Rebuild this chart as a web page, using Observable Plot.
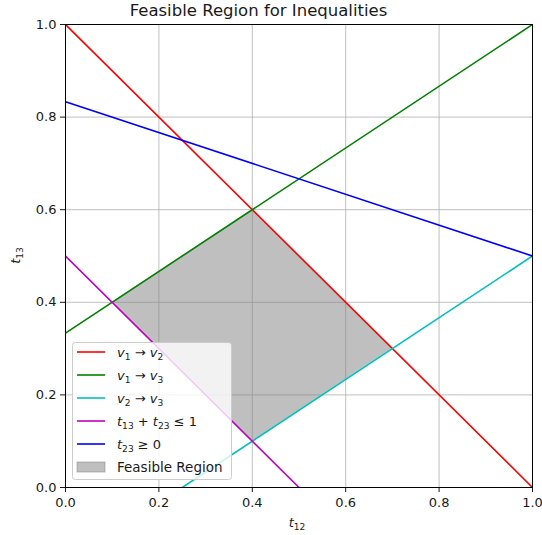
<!DOCTYPE html>
<html><head><meta charset="utf-8">
<script src="https://cdn.jsdelivr.net/npm/d3@7"></script>
<script src="https://cdn.jsdelivr.net/npm/@observablehq/plot@0.6"></script>
<style>body{margin:0;background:#fff;font-family:"DejaVu Sans",sans-serif;}</style>
</head><body><div id="chart"></div>
<script>
// Line endpoints
const seriesNames = ["v1→v2", "v1→v3", "v2→v3", "t13+t23≤1", "t23≥0"];
const seriesColors = ["#ff0000", "#008000", "#00bfbf", "#bf00bf", "#0000ff"];
const seriesX = [[0, 1], [0, 1], [0.25, 1], [0, 0.5], [0, 1]];
const seriesY = [[1, 0], [0.3333, 1], [0, 0.5], [0.5, 0], [0.8333, 0.5]];
// Feasible region: lower and upper boundary at vertex x positions
const regionX = [0.1, 0.4, 0.7];
const regionLow = [0.4, 0.1, 0.3];
const regionHigh = [0.4, 0.6, 0.3];
const ticks = [0, 0.2, 0.4, 0.6, 0.8, 1.0];

const lineRows = [];
seriesNames.forEach((n, i) => seriesX[i].forEach((x, j) => lineRows.push({name: n, x, y: seriesY[i][j]})));
const regionRows = regionX.map((x, i) => ({x, lo: regionLow[i], hi: regionHigh[i]}));

const W = 542, H = 535, ML = 65, MR = 10, MT = 24, MB = 48;
const plot = Plot.plot({
  width: W, height: H,
  marginLeft: ML, marginRight: MR, marginTop: MT, marginBottom: MB,
  style: {fontFamily: "DejaVu Sans, sans-serif", fontSize: "13px", color: "#1a1a1a", background: "white"},
  x: {domain: [0, 1], label: null},
  y: {domain: [0, 1], label: null},
  color: {domain: seriesNames, range: seriesColors},
  marks: [
    Plot.gridX({ticks, stroke: "#b0b0b0", strokeOpacity: 1, strokeWidth: 0.8}),
    Plot.gridY({ticks, stroke: "#b0b0b0", strokeOpacity: 1, strokeWidth: 0.8}),
    Plot.areaY(regionRows, {x: "x", y1: "lo", y2: "hi", fill: "#808080", fillOpacity: 0.5}),
    Plot.line(lineRows, {x: "x", y: "y", z: "name", stroke: "name", strokeWidth: 1.6, clip: true}),
    Plot.axisX({ticks, tickSize: 5, tickPadding: 5, tickFormat: d3.format(".1f"), fontSize: 13}),
    Plot.axisY({ticks, tickSize: 5, tickPadding: 4, tickFormat: d3.format(".1f"), fontSize: 13}),
    Plot.frame({stroke: "black", strokeWidth: 1})
  ]
});
document.getElementById("chart").appendChild(plot);

const svg = d3.select(plot);
// title
svg.append("text").attr("x", 258.5).attr("y", 16).attr("text-anchor", "middle")
  .attr("font-size", 16.5).attr("fill", "#1a1a1a").text("Feasible Region for Inequalities");

function mathText(g, x, y, parts, anchor, size) {
  const t = g.append("text").attr("x", x).attr("y", y).attr("font-size", size).attr("fill", "#1a1a1a")
    .attr("text-anchor", anchor || "start");
  parts.forEach(p => {
    const ts = t.append("tspan").text(p[0]);
    if (p[1] === "i") ts.attr("font-style", "italic");
    if (p[1] === "s") { ts.attr("font-size", size * 0.7).attr("dy", size * 0.25); }
    if (p[1] === "u") { ts.attr("dy", -size * 0.25); }
  });
  return t;
}
// axis labels
mathText(svg, 297, 527, [["t", "i"], ["12", "s"]], "middle", 13);
const yl = svg.append("g").attr("transform", `translate(20,${MT + (H - MT - MB) / 2}) rotate(-90)`);
mathText(yl, 0, 0, [["t", "i"], ["13", "s"]], "middle", 13);

// legend
const lg = svg.append("g").attr("text-anchor", "start");
lg.append("rect").attr("x", 72.5).attr("y", 342.5).attr("width", 159).attr("height", 137).attr("rx", 3)
  .attr("fill", "white").attr("fill-opacity", 0.8).attr("stroke", "#cccccc");
const rowY = [352, 375, 398, 421, 444, 467];
const labels = [
  [["v", "i"], ["1", "s"], [" → ", "u"], ["v", "i"], ["2", "s"]],
  [["v", "i"], ["1", "s"], [" → ", "u"], ["v", "i"], ["3", "s"]],
  [["v", "i"], ["2", "s"], [" → ", "u"], ["v", "i"], ["3", "s"]],
  [["t", "i"], ["13", "s"], [" + ", "u"], ["t", "i"], ["23", "s"], [" ≤ 1", "u"]],
  [["t", "i"], ["23", "s"], [" ≥ 0", "u"]]
];
seriesColors.forEach((c, i) => {
  lg.append("line").attr("x1", 77).attr("x2", 105).attr("y1", rowY[i]).attr("y2", rowY[i])
    .attr("stroke", c).attr("stroke-width", 1.6);
  mathText(lg, 117, rowY[i] + 4.5, labels[i], "start", 13);
});
lg.append("rect").attr("x", 77).attr("y", rowY[5] - 5).attr("width", 28).attr("height", 10)
  .attr("fill", "#808080").attr("fill-opacity", 0.5).attr("stroke", "#808080").attr("stroke-opacity", 0.5);
lg.append("text").attr("x", 117).attr("y", rowY[5] + 4.5).attr("text-anchor", "start")
  .attr("font-size", 13.5).attr("fill", "#1a1a1a").text("Feasible Region");
</script></body></html>
